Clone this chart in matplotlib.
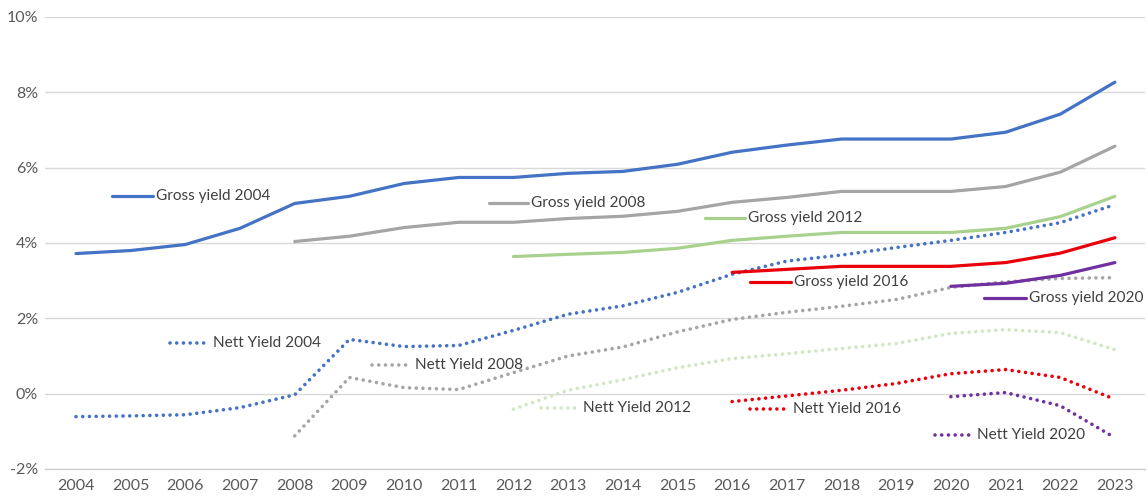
import numpy as np
import matplotlib.pyplot as plt

plt.rcParams['font.family'] = ['Lato', 'DejaVu Sans']

years = list(range(2004, 2024))

# gross and nett yields (%) by purchase year, starting at that year
gross_2004 = [3.72, 3.80, 3.96, 4.39, 5.05, 5.24, 5.58, 5.74, 5.74, 5.85,
              5.90, 6.09, 6.41, 6.60, 6.76, 6.76, 6.76, 6.94, 7.42, 8.27]
nett_2004 = [-0.61, -0.59, -0.56, -0.37, -0.03, 1.44, 1.25, 1.28, 1.68, 2.11,
             2.33, 2.69, 3.17, 3.52, 3.68, 3.88, 4.07, 4.28, 4.54, 5.02]
gross_2008 = [4.04, 4.18, 4.41, 4.55, 4.55, 4.65, 4.71, 4.84, 5.08, 5.21,
              5.37, 5.37, 5.37, 5.50, 5.88, 6.57]
nett_2008 = [-1.12, 0.43, 0.16, 0.11, 0.56, 1.00, 1.24, 1.64, 1.97, 2.16,
             2.32, 2.50, 2.82, 2.97, 3.06, 3.08]
gross_2012 = [3.64, 3.70, 3.75, 3.86, 4.07, 4.18, 4.28, 4.28, 4.28, 4.39,
              4.70, 5.24]
nett_2012 = [-0.41, 0.09, 0.37, 0.69, 0.93, 1.06, 1.20, 1.33, 1.60, 1.70,
             1.62, 1.17]
gross_2016 = [3.22, 3.30, 3.38, 3.38, 3.38, 3.48, 3.73, 4.14]
nett_2016 = [-0.21, -0.06, 0.09, 0.27, 0.53, 0.64, 0.43, -0.15]
gross_2020 = [2.85, 2.93, 3.14, 3.48]
nett_2020 = [-0.08, 0.03, -0.32, -1.17]

series = [
    ('Gross yield 2004', 2004, gross_2004, '#4472c4', '-'),
    ('Nett Yield 2004', 2004, nett_2004, '#4472c4', ':'),
    ('Gross yield 2008', 2008, gross_2008, '#a5a5a5', '-'),
    ('Nett Yield 2008', 2008, nett_2008, '#a5a5a5', ':'),
    ('Gross yield 2012', 2012, gross_2012, '#a9d18e', '-'),
    ('Nett Yield 2012', 2012, nett_2012, '#d3e6c4', ':'),
    ('Gross yield 2016', 2016, gross_2016, '#e8000b', '-'),
    ('Nett Yield 2016', 2016, nett_2016, '#e8000b', ':'),
    ('Gross yield 2020', 2020, gross_2020, '#7030a0', '-'),
    ('Nett Yield 2020', 2020, nett_2020, '#7030a0', ':'),
]

# hand-placed label keys: (x0, x1, y) in figure pixels
key_pos = {
    'Gross yield 2004': (112, 153, 196),
    'Nett Yield 2004': (170, 210, 343),
    'Gross yield 2008': (489, 528, 203),
    'Nett Yield 2008': (372, 412, 365),
    'Gross yield 2012': (705, 745, 218),
    'Nett Yield 2012': (541, 580, 408),
    'Gross yield 2016': (750, 791, 282),
    'Nett Yield 2016': (750, 790, 409),
    'Gross yield 2020': (984, 1026, 298),
    'Nett Yield 2020': (935, 974, 435),
}

W, H = 1148, 497
fig = plt.figure(figsize=(W / 100, H / 100), dpi=100)
ax_l, ax_r, ax_t, ax_b = 45, 1145, 17, 469
ax = fig.add_axes([ax_l / W, 1 - ax_b / H, (ax_r - ax_l) / W, (ax_b - ax_t) / H])

def style(ls):
    if ls == '-':
        return dict(linestyle='-', lw=2.3, solid_capstyle='round')
    return dict(linestyle=(0, (0.01, 1.85)), lw=2.6, dash_capstyle='round')

for name, start, vals, color, ls in series:
    x = np.arange(len(vals)) + (start - years[0])
    ax.plot(x, vals, color=color, zorder=3, **style(ls))

    x0, x1, py = key_pos[name]
    fx0 = (x0 - ax_l) / (ax_r - ax_l)
    fx1 = (x1 - ax_l) / (ax_r - ax_l)
    fy = (ax_b - py) / (ax_b - ax_t)
    ax.plot([fx0, fx1], [fy, fy], color=color, transform=ax.transAxes,
            clip_on=False, zorder=4, **style(ls))
    ax.text(fx1 + 3 / (ax_r - ax_l), fy, name, transform=ax.transAxes,
            ha='left', va='center', fontsize=11.1, color='#404040', zorder=5)

ax.set_xlim((ax_l - 76) / 54.68, (ax_r - 76) / 54.68)
ax.set_ylim(-2, 10)
ax.set_xticks(range(len(years)))
ax.set_xticklabels([str(y) for y in years])
ax.set_yticks(range(-2, 11, 2))
ax.set_yticklabels([f'{v}%' for v in range(-2, 11, 2)])

ax.grid(axis='y', color='#d9d9d9', lw=1)
ax.set_axisbelow(True)
for side in ['top', 'right', 'left']:
    ax.spines[side].set_visible(False)
ax.spines['bottom'].set_color('#d0d0d0')
ax.spines['bottom'].set_linewidth(1)
ax.tick_params(axis='both', length=0, labelsize=11.5, colors='#595959')
ax.tick_params(axis='y', pad=5)
ax.tick_params(axis='x', pad=7)

fig.savefig('out.png', dpi=100)
